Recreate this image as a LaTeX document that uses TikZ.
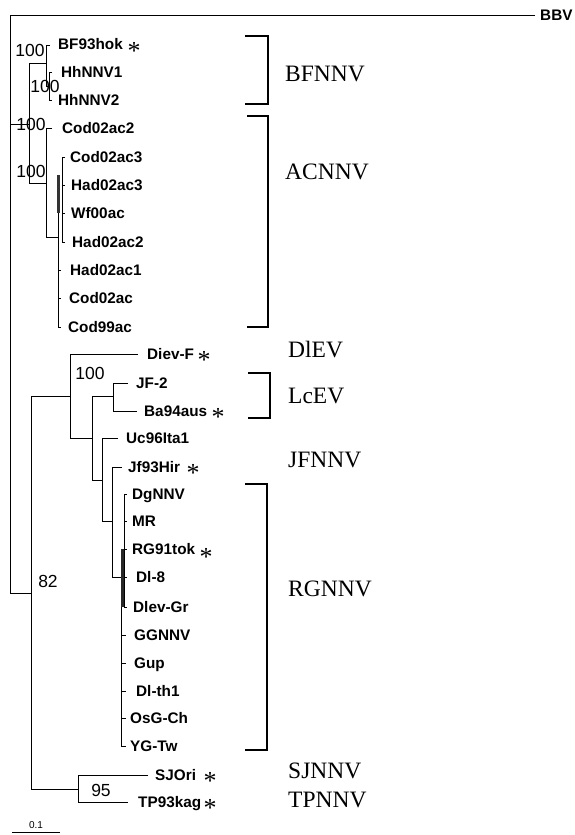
\documentclass[tikz,border=0pt]{standalone}
\usepackage{fontspec}
\setmainfont{Liberation Serif}
\setsansfont{Liberation Sans}
\newcommand\leafnode[4]{\node[leaf] (#1) at (#2,#3+5.6) {#4};}
\newcommand\starnode[3]{\node[starmark] (#1) at (#2,#3+12) {*};}
\begin{document}
\begin{tikzpicture}[x=1pt,y=-1pt,
  br/.style={line width=1pt},
  grp/.style={line width=2.8pt, line join=miter},
  leaf/.style={anchor=base west, inner sep=0pt, font=\sffamily\bfseries\fontsize{15.3}{15.3}\selectfont},
  boot/.style={anchor=center, inner sep=0pt, font=\sffamily\fontsize{17.5}{17.5}\selectfont},
  clade/.style={anchor=base west, inner sep=0pt, font=\fontsize{23.5}{23.5}\selectfont},
  starmark/.style={anchor=base, inner sep=0pt, font=\fontsize{26}{26}\selectfont},
  scalelab/.style={anchor=center, inner sep=0pt, font=\sffamily\fontsize{10}{10}\selectfont}]
\useasboundingbox (0,0) rectangle (574,835);

% ---- leaf labels ----
\node[leaf, anchor=base west] (BBV) at (540,20.6) {BBV};
\leafnode{BF93hok}{58}{44}{BF93hok}
\leafnode{HhNNV1}{61}{72}{HhNNV1}
\leafnode{HhNNV2}{58}{100}{HhNNV2}
\leafnode{Cod02ac2}{62}{128}{Cod02ac2}
\leafnode{Cod02ac3}{70}{157}{Cod02ac3}
\leafnode{Had02ac3}{71}{185}{Had02ac3}
\leafnode{Wf00ac}{71}{213}{Wf00ac}
\leafnode{Had02ac2}{72}{242}{Had02ac2}
\leafnode{Had02ac1}{70}{270}{Had02ac1}
\leafnode{Cod02ac}{69}{298}{Cod02ac}
\leafnode{Cod99ac}{68}{327}{Cod99ac}
\leafnode{DievF}{147}{354}{Diev-F}
\leafnode{JF2}{136}{383}{JF-2}
\leafnode{Ba94aus}{144}{411}{Ba94aus}
\leafnode{Uc96Ita1}{126}{438}{Uc96Ita1}
\leafnode{Jf93Hir}{128}{467}{Jf93Hir}
\leafnode{DgNNV}{132}{494}{DgNNV}
\leafnode{MR}{132}{521}{MR}
\leafnode{RG91tok}{132}{549}{RG91tok}
\leafnode{Dl8}{136}{577}{Dl-8}
\leafnode{DlevGr}{133}{607}{Dlev-Gr}
\leafnode{GGNNV}{134}{635}{GGNNV}
\leafnode{Gup}{134}{663}{Gup}
\leafnode{Dlth1}{136}{691}{Dl-th1}
\leafnode{OsGCh}{130}{718}{OsG-Ch}
\leafnode{YGTw}{130}{746}{YG-Tw}
\leafnode{SJOri}{155}{775}{SJOri}
\leafnode{TP93kag}{138}{802}{TP93kag}

% ---- stars ----
\starnode{s1}{134}{47}
\starnode{s2}{204}{356}
\starnode{s3}{218}{413}
\starnode{s4}{193}{469}
\starnode{s5}{206}{553}
\starnode{s6}{210}{777}
\starnode{s7}{210}{804}

% ---- bootstrap values ----
\node[boot] (b1) at (30,50) {100};
\node[boot] (b2) at (45,86) {100};
\node[boot] (b3) at (31,124) {100};
\node[boot] (b4) at (31,171) {100};
\node[boot] (b5) at (90,373) {100};
\node[boot] (b6) at (48,581) {82};
\node[boot] (b7) at (101,790) {95};

% ---- tree branches ----
\draw[br] (535,15) -- (10,15) -- (10,593) -- (31,593);
\draw[br] (10,124) -- (29,124);
\draw[br] (29,63) -- (29,183);
\draw[br] (29,63) -- (46,63);
\draw[br] (50,45) -- (46,45) -- (46,86) -- (49,86);
\draw[br] (52,72) -- (49,72) -- (49,100) -- (52,100);
\draw[br] (29,183) -- (46,183);
\draw[br] (52,128) -- (46,128) -- (46,237) -- (58,237);
\draw[br] (58,175) -- (58,327) -- (61,327);
\draw[br] (58,270) -- (61,270);
\draw[br] (58,298) -- (61,298);
\draw[br] (65,157) -- (62,157) -- (62,242) -- (65,242);
\draw[br] (62,185) -- (65,185);
\draw[br] (62,213) -- (65,213);
\fill[black!80] (56.6,175) rectangle (60,213);

\draw[br] (31,396) -- (31,789);
\draw[br] (31,396) -- (70,396);
\draw[br] (138,354) -- (70,354) -- (70,438) -- (92,438);
\draw[br] (92,396) -- (92,480) -- (102,480);
\draw[br] (92,396) -- (113,396);
\draw[br] (128,383) -- (113,383) -- (113,411) -- (137,411);
\draw[br] (118,438) -- (102,438) -- (102,521) -- (112,521);
\draw[br] (122,467) -- (112,467) -- (112,577) -- (121,577);
\draw[br] (127,494) -- (124,494) -- (124,607) -- (127,607);
\draw[br] (124,521) -- (127,521);
\draw[br] (124,549) -- (127,549);
\draw[br] (124,577) -- (127,577);
\draw[br] (121,549) -- (121,746) -- (126,746);
\draw[br] (121,635) -- (126,635);
\draw[br] (121,663) -- (126,663);
\draw[br] (121,691) -- (126,691);
\draw[br] (121,718) -- (126,718);
\fill[black!85] (120.5,549) rectangle (123.5,607);
\draw[br] (31,789) -- (78,789);
\draw[br] (148,775) -- (78,775) -- (78,802) -- (128,802);

% ---- group brackets ----
\draw[grp] (245,36) -- (268,36) -- (268,104) -- (245,104);
\draw[grp] (247,116) -- (268,116) -- (268,327) -- (247,327);
\draw[grp] (248,373) -- (270,373) -- (270,418) -- (248,418);
\draw[grp] (245,484) -- (267,484) -- (267,750) -- (245,750);

% ---- group labels ----
\node[clade] (BFNNV) at (285,81.5) {BFNNV};
\node[clade] (ACNNV) at (285,179.5) {ACNNV};
\node[clade] (DlEV) at (288,357.5) {DlEV};
\node[clade] (LcEV) at (288,403.5) {LcEV};
\node[clade] (JFNNV) at (288,467.5) {JFNNV};
\node[clade] (RGNNV) at (288,596.5) {RGNNV};
\node[clade] (SJNNV) at (288,778.5) {SJNNV};
\node[clade] (TPNNV) at (288,807.5) {TPNNV};

% ---- scale bar ----
\coordinate (sb1) at (12,832);
\coordinate (sb2) at (60,832);
\draw[br] (sb1) -- (sb2);
\node[scalelab] (sbl) at (36,825) {0.1};
\end{tikzpicture}
\end{document}
